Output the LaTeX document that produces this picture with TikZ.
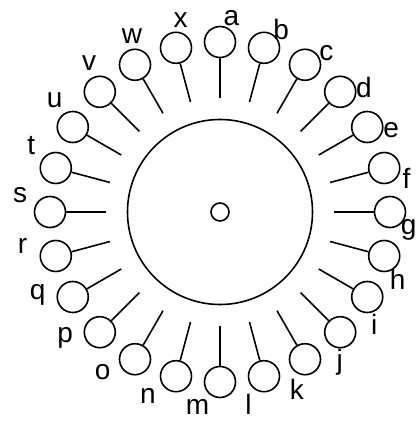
\documentclass[tikz,border=0pt]{standalone}
\usepackage{fontspec}
\setmainfont{Liberation Sans}
\usepackage{tikz}
\usetikzlibrary{positioning, calc}
\tikzset{
    bead/.style={draw, circle, minimum size=31pt, inner sep=0pt},
    beadlabel/.style={inner sep=0pt, font=\fontsize{28}{32}\selectfont},
}

\begin{document}
\begin{tikzpicture}[x=1pt, y=1pt, line width=1.6pt]
        \useasboundingbox (0,0) rectangle (417,421);
        \coordinate (hub) at (220,209);
        \coordinate (lhub) at (214.5,208.5);
        \node[draw, circle, minimum size=185pt, inner sep=0pt] (rim) at (hub) {};
        \node[draw, circle, minimum size=18pt, inner sep=0pt] (axle) at (hub) {};
        % spokes, beads and letters, clockwise from the top
        \foreach \l [count=\k from 0] in {a,b,c,d,e,f,g,h,i,j,k,l,m,n,o,p,q,r,s,t,u,v,w,x} {
            \coordinate (in-\l) at ($(hub)+(90-15*\k:114)$);
            \node[bead] (bead-\l) at ($(hub)+(90-15*\k:170)$) {};
            \draw (in-\l) -- (bead-\l);
            \node[beadlabel] (lab-\l) at ($(lhub)+(85-15*\k:195)$) {\l};
        }
    \end{tikzpicture}
\end{document}
